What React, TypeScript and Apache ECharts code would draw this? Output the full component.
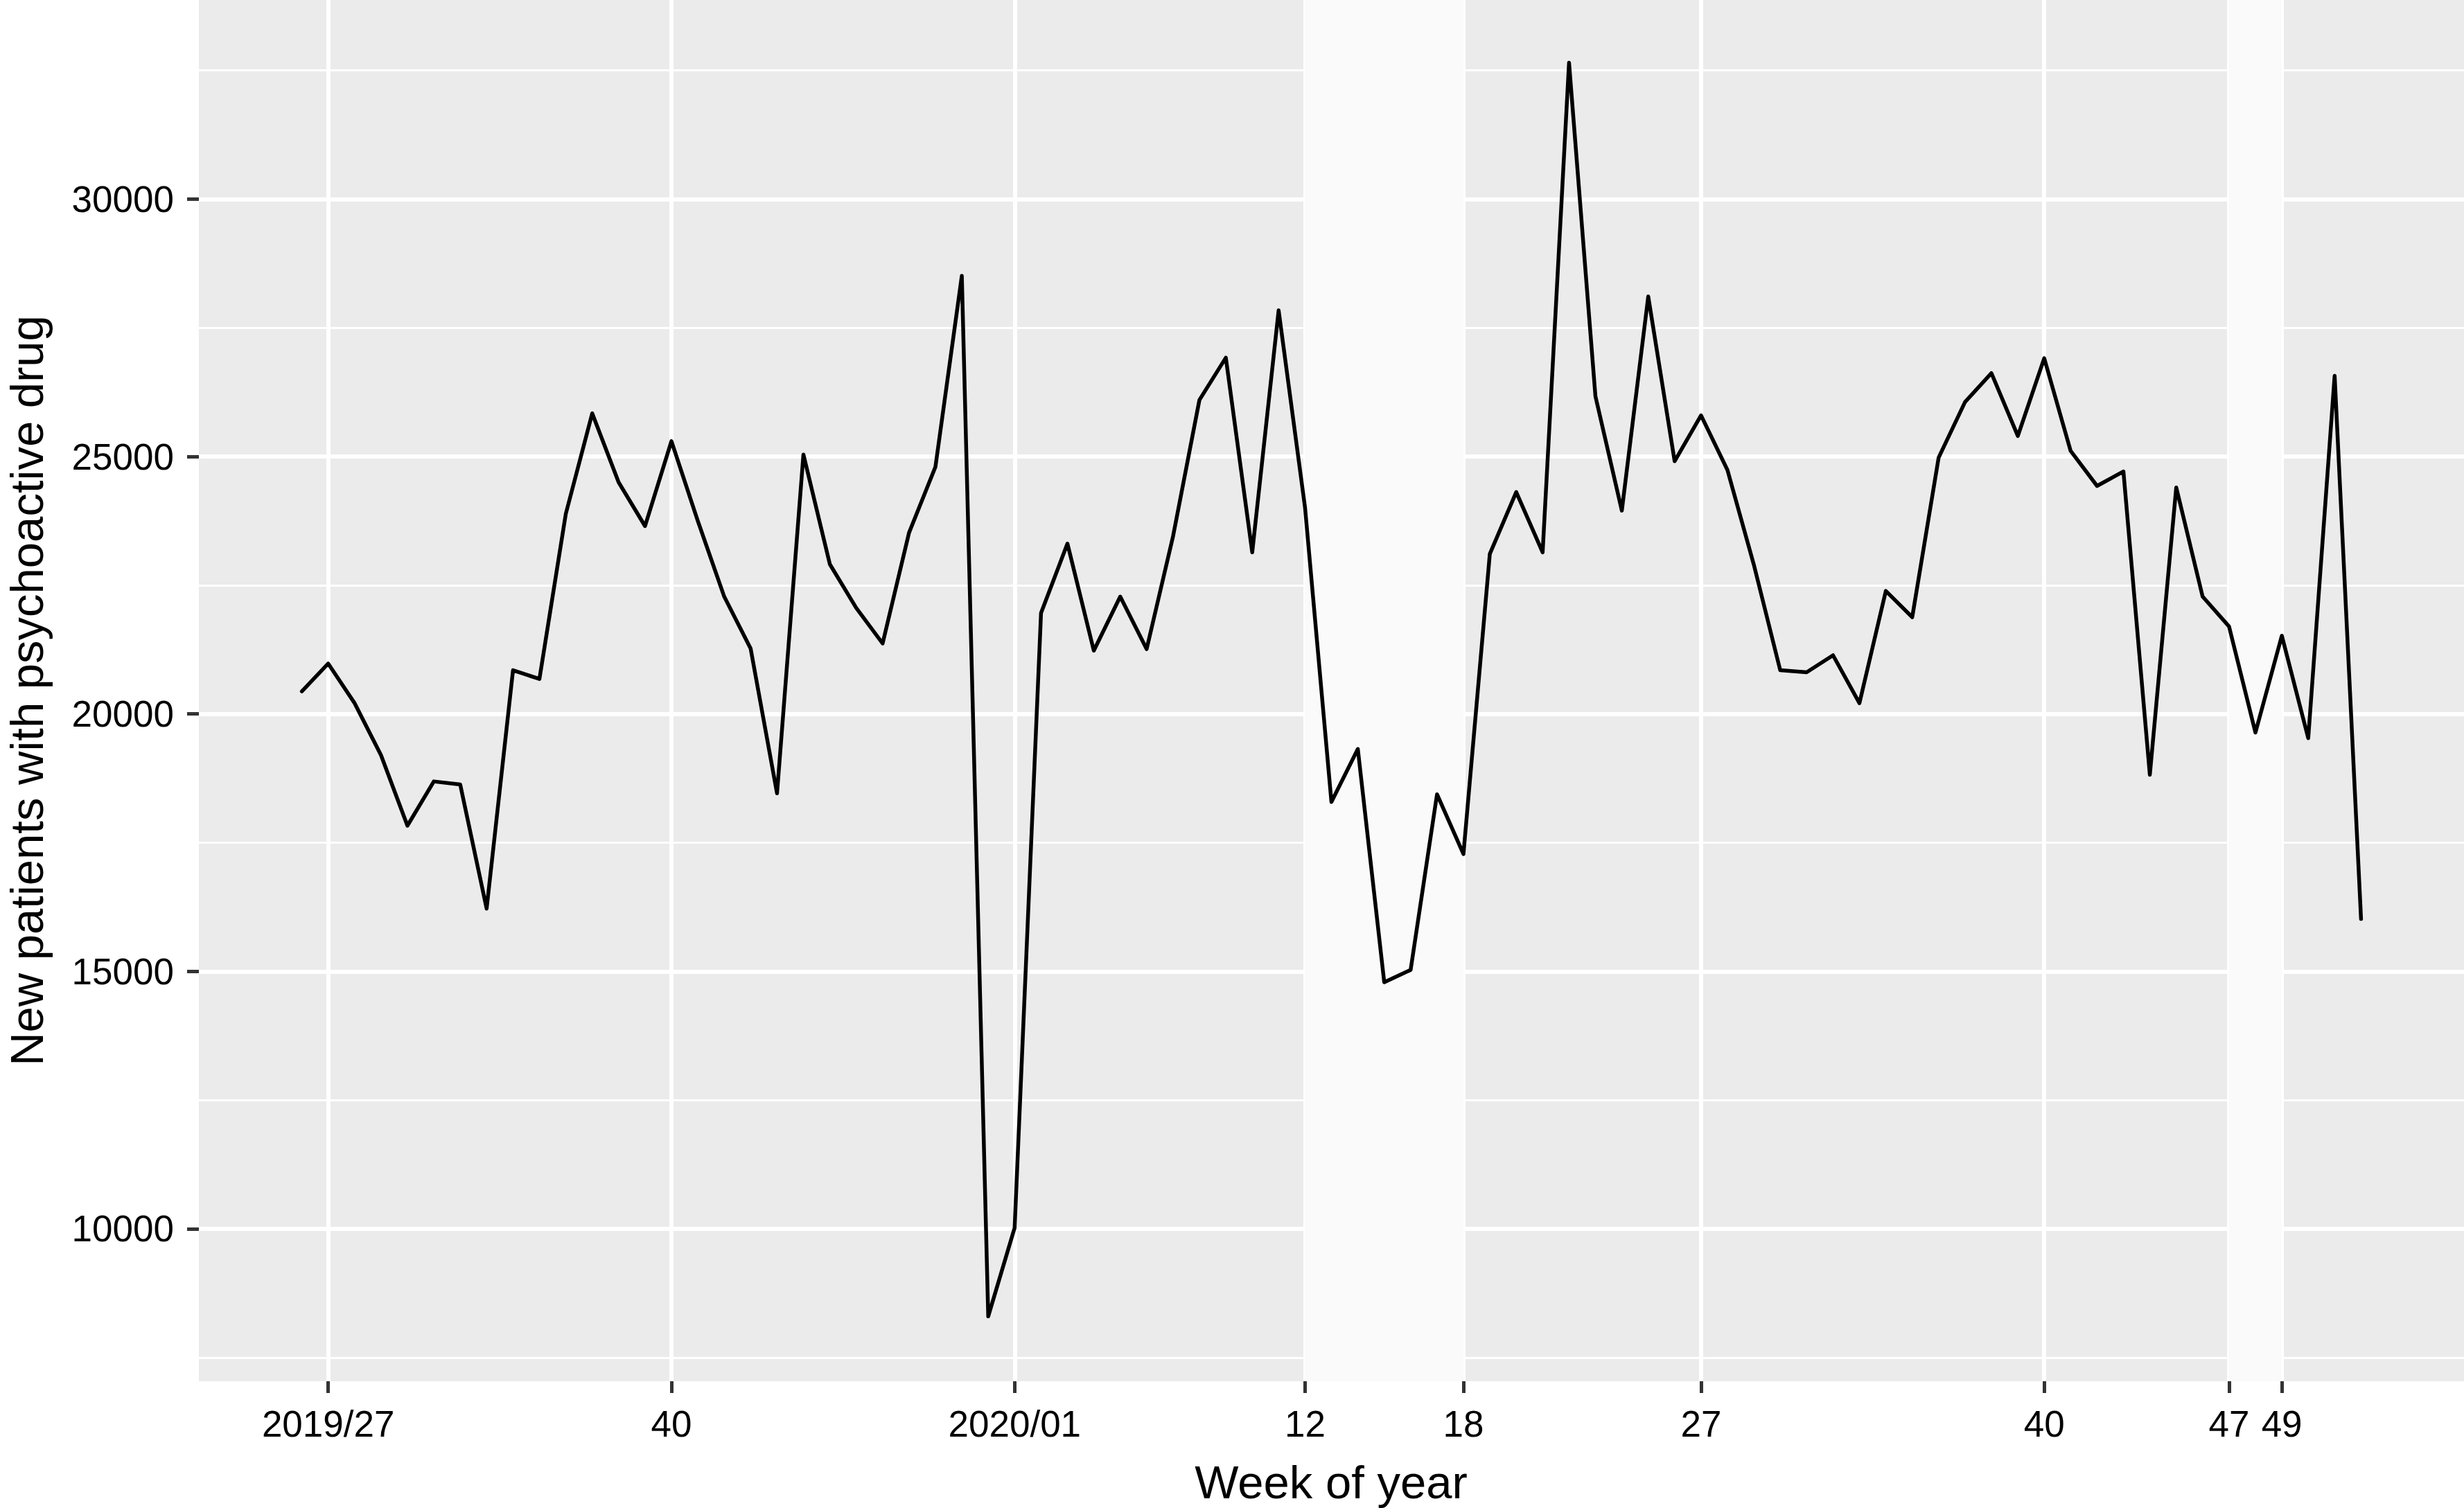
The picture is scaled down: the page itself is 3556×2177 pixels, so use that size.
import React, { useEffect, useRef } from 'react';
import * as echarts from 'echarts';

// Week of year (ISO week), one point per week
const weeks = [
  '2019/26', '2019/27', '2019/28', '2019/29', '2019/30', '2019/31', '2019/32', '2019/33', '2019/34',
  '2019/35', '2019/36', '2019/37', '2019/38', '2019/39', '2019/40', '2019/41', '2019/42', '2019/43',
  '2019/44', '2019/45', '2019/46', '2019/47', '2019/48', '2019/49', '2019/50', '2019/51', '2019/52',
  '2020/01', '2020/02', '2020/03', '2020/04', '2020/05', '2020/06', '2020/07', '2020/08', '2020/09',
  '2020/10', '2020/11', '2020/12', '2020/13', '2020/14', '2020/15', '2020/16', '2020/17', '2020/18',
  '2020/19', '2020/20', '2020/21', '2020/22', '2020/23', '2020/24', '2020/25', '2020/26', '2020/27',
  '2020/28', '2020/29', '2020/30', '2020/31', '2020/32', '2020/33', '2020/34', '2020/35', '2020/36',
  '2020/37', '2020/38', '2020/39', '2020/40', '2020/41', '2020/42', '2020/43', '2020/44', '2020/45',
  '2020/46', '2020/47', '2020/48', '2020/49', '2020/50', '2020/51', '2020/52',
];

// New patients with psychoactive drug, per week
const newPatients = [
  20440, 20980, 20210, 19200, 17830, 18690, 18630, 16220, 20850,
  20680, 23890, 25840, 24500, 23650, 25300, 23750, 22280, 21270,
  18460, 25040, 22910, 22060, 21370, 23520, 24800, 28510, 8300,
  10020, 21960, 23310, 21230, 22280, 21260, 23450, 26100, 26920,
  23140, 27840, 24010, 18290, 19320, 14790, 15030, 18440, 17280,
  23110, 24310, 23140, 32650, 26170, 23950, 28110, 24910, 25800,
  24740, 22900, 20850, 20810, 21140, 20210, 22390, 21880, 24980,
  26060, 26620, 25400, 26910, 25110, 24430, 24710, 18820, 24400,
  22280, 21700, 19640, 21520, 19530, 26570, 16020,
];

// x-axis breaks and their labels
const tickWeeks = ['2019/27', '2019/40', '2020/01', '2020/12', '2020/18', '2020/27', '2020/40', '2020/47', '2020/49'];
const tickLabels = ['2019/27', '40', '2020/01', '12', '18', '27', '40', '47', '49'];

// y-axis breaks
const yMajorTicks = [10000, 15000, 20000, 25000, 30000];
const yMinorTicks = [7500, 12500, 17500, 22500, 27500, 32500];

// highlighted periods
const shadedPeriods = [
  ['2020/12', '2020/18'],
  ['2020/47', '2020/49'],
];

const FONT = '"Liberation Sans", Arial, Helvetica, sans-serif';

export default function App() {
  const ref = useRef<HTMLDivElement>(null);

  useEffect(() => {
    if (!ref.current) return;
    const chart = echarts.init(ref.current, null, { renderer: 'svg' });
    const pos = (w: string) => weeks.indexOf(w);
    const tickPos = tickWeeks.map(pos);
    const n = weeks.length - 1;
    const xPad = n * 0.05;

    const option: any = {
      animation: false,
      backgroundColor: '#FFFFFF',
      grid: {
        left: 287,
        right: 0,
        top: 0,
        bottom: 183,
        show: true,
        backgroundColor: '#EBEBEB',
        borderWidth: 0,
        borderColor: 'transparent',
        containLabel: false,
        outerBoundsMode: 'none',
      },
      xAxis: {
        type: 'value',
        min: -xPad,
        max: n + xPad,
        axisLine: { show: false, onZero: false },
        axisTick: {
          show: true,
          customValues: tickPos,
          length: 17,
          lineStyle: { color: '#333333', width: 5 },
        },
        axisLabel: {
          show: true,
          customValues: tickPos,
          margin: 35,
          fontSize: 53,
          fontFamily: FONT,
          color: '#000000',
          formatter: (v: number) => {
            const k = tickPos.indexOf(Math.round(v));
            return k >= 0 ? tickLabels[k] : '';
          },
        },
        splitLine: { show: true, lineStyle: { color: '#FFFFFF', width: 6 } },
      },
      yAxis: [
        {
          type: 'value',
          min: 7040,
          max: 33868,
          position: 'left',
          axisLine: { show: false, onZero: false },
          axisTick: {
            show: true,
            customValues: yMajorTicks,
            length: 17,
            lineStyle: { color: '#333333', width: 5 },
          },
          axisLabel: {
            show: true,
            customValues: yMajorTicks,
            margin: 36,
            fontSize: 53,
            fontFamily: FONT,
            color: '#000000',
            formatter: (v: number) => String(v),
          },
          splitLine: { show: true, lineStyle: { color: '#FFFFFF', width: 6 } },
        },
        {
          type: 'value',
          min: 7040,
          max: 33868,
          position: 'right',
          axisLine: { show: false, onZero: false },
          axisTick: { show: false, customValues: yMinorTicks },
          axisLabel: { show: false, customValues: yMinorTicks },
          splitLine: { show: true, lineStyle: { color: '#FFFFFF', width: 3 } },
        },
      ],
      graphic: [
        {
          type: 'text',
          x: 1921,
          y: 2139,
          style: {
            text: 'Week of year',
            fontSize: 67,
            fontFamily: FONT,
            fill: '#000000',
            align: 'center',
            verticalAlign: 'middle',
          },
        },
        {
          type: 'text',
          x: 38,
          y: 997,
          rotation: Math.PI / 2,
          style: {
            text: 'New patients with psychoactive drug',
            fontSize: 67,
            fontFamily: FONT,
            fill: '#000000',
            align: 'center',
            verticalAlign: 'middle',
          },
        },
      ],
      series: [
        {
          type: 'line',
          xAxisIndex: 0,
          yAxisIndex: 0,
          data: newPatients.map((v, i) => [i, v]),
          showSymbol: false,
          symbol: 'none',
          z: 3,
          lineStyle: { color: '#000000', width: 5.5, cap: 'round', join: 'round' },
          markArea: {
            silent: true,
            itemStyle: { color: '#FAFAFA', opacity: 1 },
            data: shadedPeriods.map(([a, b]) => [{ xAxis: pos(a) }, { xAxis: pos(b) }]),
          },
        },
      ],
    };

    chart.setOption(option);
    return () => chart.dispose();
  }, []);

  return (
    <div
      ref={ref}
      style={{ position: 'absolute', left: 0, top: 0, width: 3556, height: 2177 }}
    />
  );
}
